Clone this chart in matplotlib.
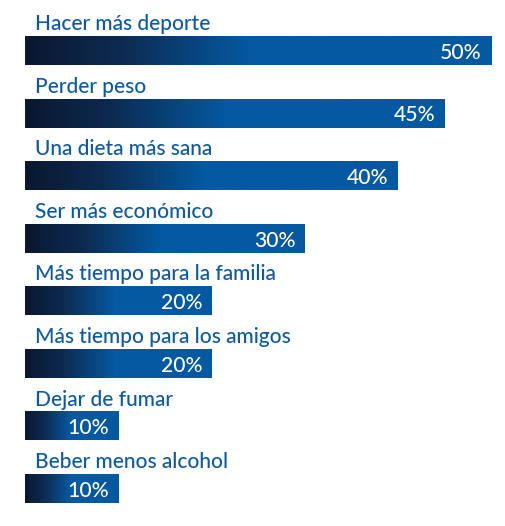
import matplotlib.pyplot as plt
import numpy as np
from matplotlib.colors import LinearSegmentedColormap

categories = [
    "Hacer más deporte",
    "Perder peso",
    "Una dieta más sana",
    "Ser más económico",
    "Más tiempo para la familia",
    "Más tiempo para los amigos",
    "Dejar de fumar",
    "Beber menos alcohol",
]
values = [50, 45, 40, 30, 20, 20, 10, 10]
value_labels = [f"{v}%" for v in values]

TEXT_BLUE = "#0d5aa4"
DARK = "#0a1830"
BLUE = "#0459a1"

plt.rcParams['font.family'] = ['Lato', 'DejaVu Sans']

W, H = 505, 526
fig = plt.figure(figsize=(W / 100, H / 100), dpi=100)
ax = fig.add_axes([25 / W, 0, 466 / W, 1])
ax.set_xlim(0, 50)
ax.set_ylim(7.59, -0.815)
ax.axis('off')

# gradient: dark on the left, full blue from about half of the bar
cmap = LinearSegmentedColormap.from_list(
    "bar", [(0, DARK), (0.2, "#0d2a50"), (0.48, BLUE), (1, BLUE)])
grad = np.linspace(0, 1, 256).reshape(1, -1)

bar_h = 0.4475
for i, (cat, v, lab) in enumerate(zip(categories, values, value_labels)):
    ax.imshow(grad, cmap=cmap, aspect='auto', interpolation='bilinear',
              extent=(0, v, i + bar_h / 2, i - bar_h / 2))
    ax.text(v - 1.0, i + 0.03, lab, color='white', fontsize=15.2,
            fontweight='medium', ha='right', va='center')
    ax.text(1.05, i - bar_h / 2 - 0.11, cat, color=TEXT_BLUE, fontsize=15,
            fontweight='medium', ha='left', va='baseline')

fig.savefig("out.png", dpi=100)
